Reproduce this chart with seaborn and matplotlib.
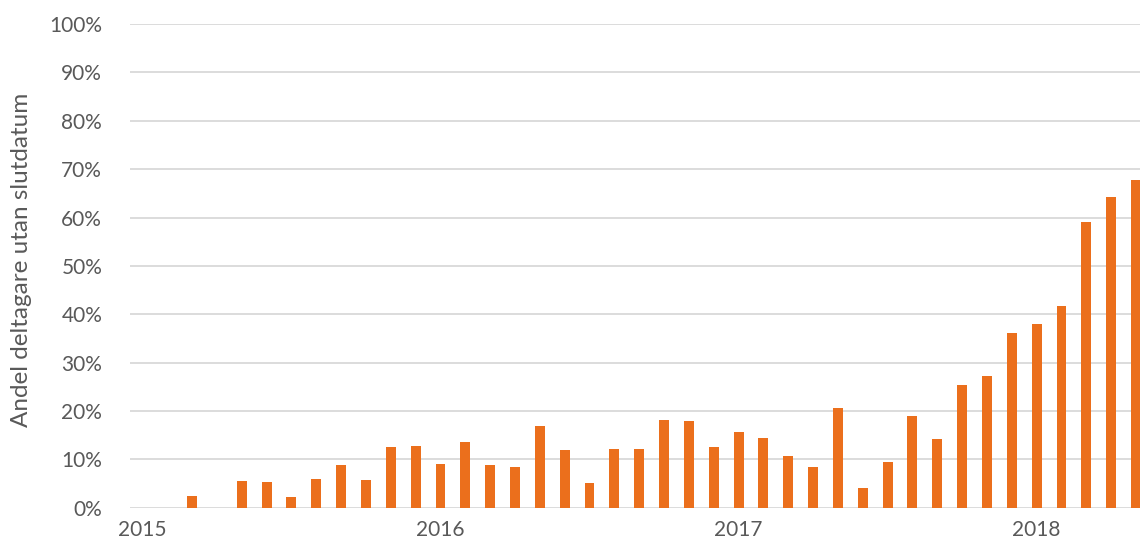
import pandas as pd
import matplotlib
matplotlib.use("Agg")
import matplotlib.pyplot as plt
import seaborn as sb
from matplotlib.ticker import PercentFormatter

# monthly share, Jan 2015 .. May 2018 (percent)
months = pd.date_range("2015-01-01", "2018-05-01", freq="MS").strftime("%Y-%m").tolist()
andel = [0, 0, 2.4, 0, 5.5, 5.3, 2.3, 6.0, 8.9, 5.8, 12.6, 12.7,
         9.1, 13.6, 8.8, 8.4, 17.0, 12.0, 5.1, 12.2, 12.1, 18.2, 18.0, 12.6,
         15.6, 14.5, 10.7, 8.5, 20.6, 4.0, 9.5, 19.0, 14.3, 25.3, 27.3, 36.1,
         38.0, 41.8, 59.1, 64.2, 67.7]
year_labels = ["2015", "2016", "2017", "2018"]

data = pd.DataFrame({"manad": months, "andel": [v / 100 for v in andel]})

sb.set_style("white")
plt.rcParams["font.family"] = ["Lato", "DejaVu Sans"]
grey = "#595959"

fig = plt.figure(figsize=(11.4, 5.46), dpi=100)
ax = fig.add_axes([0.114, 0.0701, 0.886, 0.8857])

sb.barplot(x="manad", y="andel", data=data, order=months, color="#EB6F1C",
           saturation=1, width=0.4, linewidth=0, ax=ax)

ax.set_ylim(0, 1)
ax.set_xlim(-0.5, 40.16)
ax.yaxis.set_major_formatter(PercentFormatter(1.0, decimals=0))
ax.set_yticks([i / 10 for i in range(11)])
ax.grid(axis="y", color="#D9D9D9", linewidth=1.3)
ax.set_axisbelow(True)
ax.set_xticks([0, 12, 24, 36])
ax.set_xticklabels(year_labels)
ax.tick_params(axis="both", length=0, labelsize=15, colors=grey)
ax.tick_params(axis="x", pad=9)
ax.tick_params(axis="y", pad=20)
for s in ax.spines.values():
    s.set_visible(False)
ax.set_xlabel("")
ax.set_ylabel("Andel deltagare utan slutdatum", fontsize=17.5, color=grey)
ax.yaxis.set_label_coords(-0.097, 0.513)

fig.savefig("out.png", dpi=100)
